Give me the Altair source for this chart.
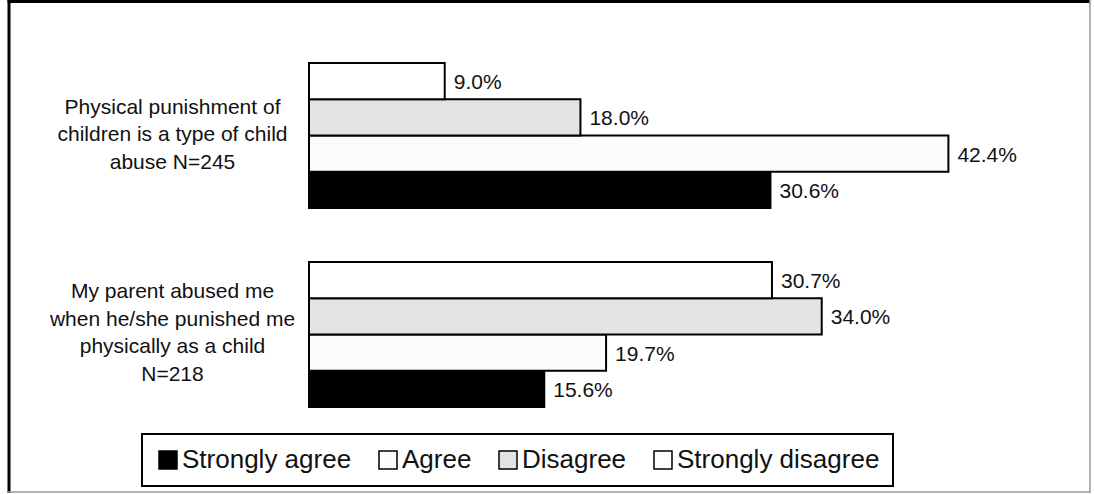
import altair as alt
import pandas as pd

# Survey statements (line breaks marked with "|") and response levels
questions = [
    "Physical punishment of|children is a type of child|abuse N=245",
    "My parent abused me|when he/she punished me|physically as a child|N=218",
]
levels = ["Strongly agree", "Agree", "Disagree", "Strongly disagree"]

# Percentages per level, in the order of `levels`
punishment_is_abuse = [30.6, 42.4, 18.0, 9.0]
parent_abused_me = [15.6, 19.7, 34.0, 30.7]

level_fills = ["#000000", "#fcfcfc", "#e3e3e3", "#ffffff"]

rows = []
for q, vals in zip(questions, [punishment_is_abuse, parent_abused_me]):
    for lev, v in zip(levels, vals):
        rows.append({"question": q, "level": lev, "value": v})
df = pd.DataFrame(rows)

FONT = "Liberation Sans"

# Multi-line labels are anchored at their first line; lift each block so it
# sits centred on its group of bars.
label_lift = {
    "condition": {"test": "indexof(datum.label, 'N=218') >= 0", "value": -42},
    "value": -28,
}

y_enc = alt.Y(
    "question:N",
    sort=questions,
    scale=alt.Scale(paddingInner=0.271, paddingOuter=0),
    axis=alt.Axis(
        title=None,
        domain=False,
        ticks=False,
        labelExpr="split(datum.label, '|')",
        labelAlign="center",
        labelPadding=137,
        labelOffset=label_lift,
        labelFontSize=21,
        labelLineHeight=27.5,
        labelFont=FONT,
        labelColor="#111111",
        labelLimit=400,
    ),
)
y_off = alt.YOffset(
    "level:N",
    sort=list(reversed(levels)),
    scale=alt.Scale(paddingInner=0, paddingOuter=0),
)
x_enc = alt.X("value:Q", scale=alt.Scale(domain=[0, 50]), axis=None)

base = alt.Chart(df)

bars = base.mark_bar(stroke="#000000", strokeWidth=2).encode(
    x=x_enc,
    y=y_enc,
    yOffset=y_off,
    fill=alt.Fill(
        "level:N",
        scale=alt.Scale(domain=levels, range=level_fills),
        legend=alt.Legend(
            title=None,
            orient="none",
            legendX=-167,
            legendY=371,
            direction="horizontal",
            columns=4,
            symbolType="square",
            symbolSize=324,
            symbolStrokeColor="#000000",
            symbolStrokeWidth=1.5,
            labelFontSize=26,
            labelFont=FONT,
            labelColor="#111111",
            labelLimit=400,
            labelOffset=1,
            columnPadding=23,
            padding=13,
            strokeColor="#000000",
            fillColor="#ffffff",
        ),
    ),
)

labels = base.transform_calculate(
    label="format(datum.value, '.1f') + '%'"
).mark_text(
    align="left", baseline="middle", dx=9, dy=2, fontSize=21, font=FONT, color="#111111"
).encode(
    x=x_enc,
    y=y_enc,
    yOffset=y_off,
    text="label:N",
)

# Outer frame around the figure
one = alt.Data(values=[{}])
frame_left = alt.Chart(one).mark_rule(color="#000000", strokeWidth=3).encode(
    x=alt.value(-300), y=alt.value(-63), y2=alt.value(430)
)
frame_top = alt.Chart(one).mark_rule(color="#000000", strokeWidth=3).encode(
    x=alt.value(-301.5), x2=alt.value(781), y=alt.value(-61.5)
)
frame_right = alt.Chart(one).mark_rule(color="#9a9a9a", strokeWidth=1.5).encode(
    x=alt.value(781), y=alt.value(-63), y2=alt.value(430)
)
frame_bottom = alt.Chart(one).mark_rule(color="#9a9a9a", strokeWidth=1.5).encode(
    x=alt.value(-301.5), x2=alt.value(781), y=alt.value(429)
)

chart = (
    alt.layer(bars, labels, frame_left, frame_top, frame_right, frame_bottom)
    .properties(
        width=754,
        height=344,
        autosize=alt.AutoSizeParams(type="none"),
        padding={"left": 309, "top": 63, "right": 31, "bottom": 87},
        background="#ffffff",
    )
    .configure_view(strokeWidth=0)
    .configure_legend(strokeWidth=2)
)

chart.save("out.html", embed_options={"renderer": "svg", "actions": False})
